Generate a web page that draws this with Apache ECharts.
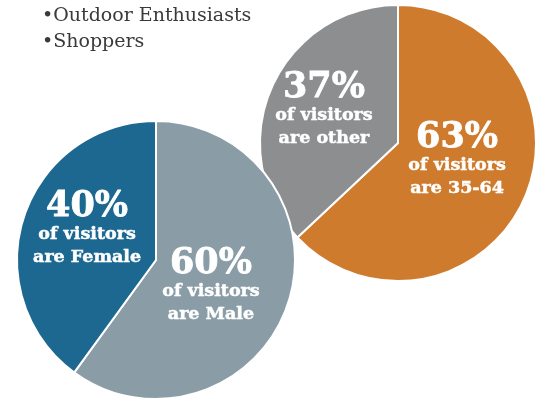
<!DOCTYPE html>
<html><head><meta charset="utf-8">
<script src="https://cdn.jsdelivr.net/npm/echarts@6/dist/echarts.min.js"></script>
<style>html,body{margin:0;padding:0;background:#fff}#c{width:537px;height:399px}</style>
</head><body><div id="c"></div>
<script>
const bullets = ['•Outdoor Enthusiasts', '•Shoppers'];
const genderNames = ['Male', 'Female'];
const genderValues = [60, 40];
const genderColors = ['#8a9da6', '#1c6891'];
const ageNames = ['35-64', 'other'];
const ageValues = [63, 37];
const ageColors = ['#cf7b2d', '#8d8e90'];
const FONT = 'DejaVu Serif';

const rich = {
  p: {fontFamily: FONT, fontWeight: 'bold', fontSize: 35, color: '#fff', lineHeight: 32, align: 'center',
      textBorderColor: '#fff', textBorderWidth: 0.8},
  t: {fontFamily: FONT, fontWeight: 'bold', fontSize: 17.5, color: '#fff', lineHeight: 23, align: 'center',
      textBorderColor: '#fff', textBorderWidth: 0.5}
};
function lbl(p) { return '{p|' + p.value + '%}\n{t|of visitors}\n{t|are ' + p.name + '}'; }

const offsets = {Male: [-14, 5], Female: [0, -8], '35-64': [-7, -11], other: [-8, -3]};
function mk(names, vals, cols) {
  return names.map((n, i) => ({name: n, value: vals[i], itemStyle: {color: cols[i]},
    label: {offset: offsets[n]}}));
}

const chart = echarts.init(document.getElementById('c'));
chart.setOption({
  animation: false,
  graphic: bullets.map((b, i) => ({type: 'text', left: 42, top: 7 + i * 26,
    style: {text: b, fontFamily: FONT, fontSize: 19, fill: '#3a3a3a'}})),
  series: [
    {type: 'pie', center: [398, 143], radius: [0, 138], startAngle: 90, clockwise: true,
     itemStyle: {borderColor: '#fff', borderWidth: 2},
     label: {position: 'inside', formatter: lbl, rich: rich},
     labelLine: {show: false}, emphasis: {disabled: true},
     data: mk(ageNames, ageValues, ageColors)},
    {type: 'pie', center: [156, 260], radius: [0, 139], startAngle: 90, clockwise: true,
     itemStyle: {borderColor: '#fff', borderWidth: 2},
     label: {position: 'inside', formatter: lbl, rich: rich},
     labelLine: {show: false}, emphasis: {disabled: true},
     data: mk(genderNames, genderValues, genderColors)}
  ]
});
</script></body></html>
